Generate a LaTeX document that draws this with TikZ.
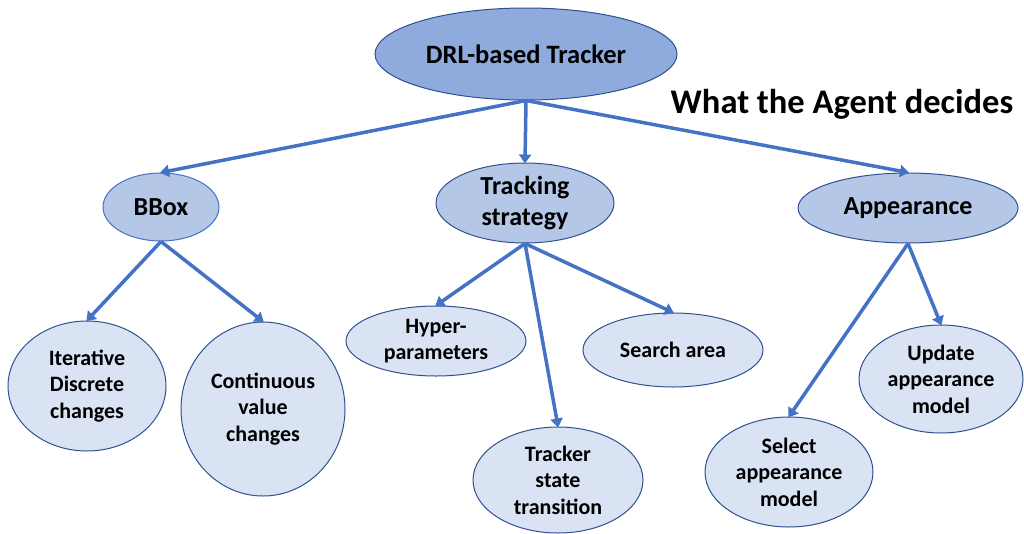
\documentclass[tikz,border=0pt]{standalone}
\usepackage{fontspec}
\setmainfont{Carlito}
\usetikzlibrary{shapes.geometric,arrows.meta}
\definecolor{rootfill}{HTML}{8FAADC}
\definecolor{midfill}{HTML}{B4C7E7}
\definecolor{leaffill}{HTML}{DAE3F3}
\definecolor{edgeblue}{HTML}{2F528F}
\definecolor{linkblue}{HTML}{4472C4}
\tikzset{
  bubble/.style={ellipse, draw=edgeblue, line width=1pt, inner sep=0pt, align=center,
    font=\fontsize{22}{26.5}\selectfont\bfseries, text=black},
  rootbubble/.style={bubble, fill=rootfill, font=\fontsize{26.5}{31}\selectfont\bfseries},
  midbubble/.style={bubble, fill=midfill, font=\fontsize{26}{31}\selectfont\bfseries},
  leafbubble/.style={bubble, fill=leaffill},
  link/.style={draw=linkblue, line width=3.5pt, -{Triangle[length=9pt,width=12pt]}, shorten >=-1pt},
}
\begin{document}
\begin{tikzpicture}[x=1pt,y=-1pt]
\useasboundingbox (0,0) rectangle (1024,533);
\begin{scope}
\clip (0,0) rectangle (1024,533);
% top level
\node[rootbubble, minimum width=302pt, minimum height=92pt] (root) at (526,54) {DRL-based Tracker};
% second level
\node[midbubble, draw=linkblue, minimum width=116pt, minimum height=68pt] (bbox) at (161,207) {BBox};
\node[midbubble, minimum width=178pt, minimum height=80pt] (strategy) at (525,203) {Tracking\\strategy};
\node[midbubble, minimum width=220pt, minimum height=70pt] (appear) at (908,208) {Appearance};
% leaves
\node[leafbubble, minimum width=158pt, minimum height=130pt] (iter) at (87,386) {Iterative\\Discrete\\changes};
\node[leafbubble, minimum width=164pt, minimum height=174pt] (cont) at (263,409) {Continuous\\value\\changes};
\node[leafbubble, minimum width=180pt, minimum height=70pt] (hyper) at (436,341) {Hyper-\\parameters};
\node[leafbubble, minimum width=180pt, minimum height=74pt] (search) at (673,350) {Search area};
\node[leafbubble, minimum width=170pt, minimum height=106pt] (state) at (558,480) {Tracker\\state\\transition};
\node[leafbubble, minimum width=164pt, minimum height=108pt] (update) at (941,379) {Update\\appearance\\model};
\node[leafbubble, minimum width=168pt, minimum height=110pt] (select) at (789,472) {Select\\appearance\\model};
\end{scope}
% heading
\node[font=\fontsize{34.5}{40}\selectfont\bfseries, inner sep=0pt] (title) at (842,104) {What the Agent decides};
% connectors
\draw[link] (root.south) -- (bbox.north);
\draw[link] (root.south) -- (strategy.north);
\draw[link] (root.south) -- (appear.north);
\draw[link] (bbox.south) -- (iter.north);
\draw[link] (bbox.south) -- (cont.north);
\draw[link] (strategy.south) -- (hyper.north);
\draw[link] (strategy.south) -- (state.north);
\draw[link] (strategy.south) -- (search.north);
\draw[link] (appear.south) -- (select.north);
\draw[link] (appear.south) -- (update.north);
\end{tikzpicture}
\end{document}
